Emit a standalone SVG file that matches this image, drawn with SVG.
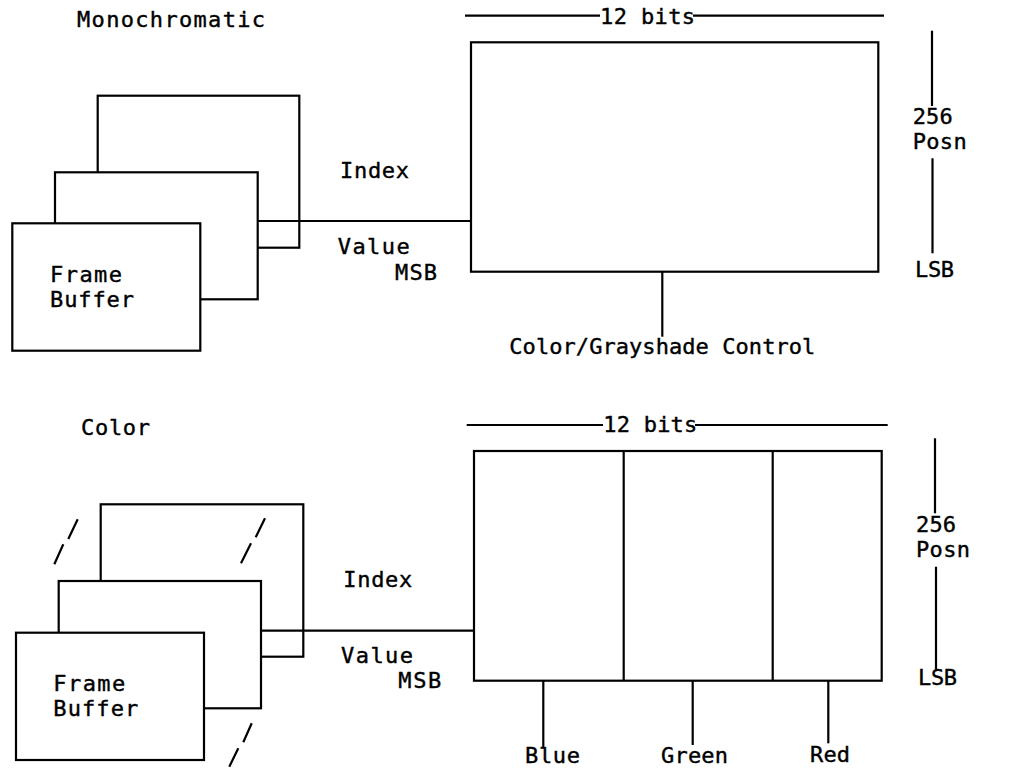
<svg xmlns="http://www.w3.org/2000/svg" width="1015" height="772" viewBox="0 0 1015 772">
<style>
.b{fill:#fff;stroke:#000;stroke-width:2.2}
.l{fill:none;stroke:#000;stroke-width:2.2}
text{font-family:"DejaVu Sans Mono","Liberation Mono",monospace;font-size:22px;fill:#000;stroke:#000;stroke-width:0.4}
</style>
<rect width="1015" height="772" fill="#fff"/>
<g id="mono">
<text x="77" y="26.5" textLength="188" lengthAdjust="spacing">Monochromatic</text>
<g id="mono-fb3"><rect class="b" x="97.7" y="95.7" width="201.6" height="152"/></g>
<g id="mono-fb2"><rect class="b" x="55" y="172.3" width="202.7" height="127"/></g>
<g id="mono-fb1"><rect class="b" x="12.3" y="223.3" width="188" height="127.4"/>
<text x="50" y="281.7" textLength="72" lengthAdjust="spacing">Frame</text>
<text x="50" y="306.7" textLength="84" lengthAdjust="spacing">Buffer</text></g>
<g id="mono-lut"><rect class="b" x="471" y="42.3" width="407.3" height="229.4"/></g>
<g id="mono-labels">
<text x="600" y="23.5" textLength="95" lengthAdjust="spacing">12 bits</text>
<text x="340" y="178.3" textLength="69" lengthAdjust="spacing">Index</text>
<text x="337.7" y="254.3" textLength="72" lengthAdjust="spacing">Value</text>
<text x="395" y="280" textLength="42" lengthAdjust="spacing">MSB</text>
<text x="509.3" y="354.3" textLength="306" lengthAdjust="spacing">Color/Grayshade Control</text>
<text x="912.7" y="124.3" textLength="40" lengthAdjust="spacing">256</text>
<text x="912.7" y="149" textLength="54" lengthAdjust="spacing">Posn</text>
<text x="915" y="276.7" textLength="39" lengthAdjust="spacing">LSB</text>
</g>
</g>
<g id="color">
<text x="81" y="435" textLength="69" lengthAdjust="spacing">Color</text>
<g id="color-fb3"><rect class="b" x="100.7" y="504.3" width="202.6" height="152.4"/></g>
<g id="color-fb2"><rect class="b" x="58.7" y="581" width="202.3" height="127.3"/></g>
<g id="color-fb1"><rect class="b" x="16" y="632.7" width="188" height="127.3"/>
<text x="53.3" y="691" textLength="72" lengthAdjust="spacing">Frame</text>
<text x="53.3" y="716" textLength="85" lengthAdjust="spacing">Buffer</text></g>
<g id="color-lut"><rect class="b" x="474" y="451" width="407.7" height="229.7"/>
<line class="l" x1="623.7" y1="451" x2="623.7" y2="680.7"/>
<line class="l" x1="772.7" y1="451" x2="772.7" y2="680.7"/></g>
<g id="color-slashes">
<path class="l" d="M77.7 519.3L68.3 539M63.3 544.3L54.3 564.3"/>
<path class="l" d="M265 518.3L255.7 537.3M251 543.3L241 563.3"/>
<path class="l" d="M251.7 723.3L243.3 742.3M238.3 748.3L229.3 766.7"/>
</g>
<g id="color-labels">
<text x="603.3" y="432.3" textLength="94" lengthAdjust="spacing">12 bits</text>
<text x="343.3" y="586.7" textLength="69" lengthAdjust="spacing">Index</text>
<text x="341" y="663.3" textLength="72" lengthAdjust="spacing">Value</text>
<text x="398.3" y="688.3" textLength="43" lengthAdjust="spacing">MSB</text>
<text x="916" y="532.3" textLength="40" lengthAdjust="spacing">256</text>
<text x="916" y="557.3" textLength="54" lengthAdjust="spacing">Posn</text>
<text x="918" y="685" textLength="39" lengthAdjust="spacing">LSB</text>
<text x="525" y="763.3" textLength="55" lengthAdjust="spacing">Blue</text>
<text x="661" y="763" textLength="67" lengthAdjust="spacing">Green</text>
<text x="810" y="761.7" textLength="40" lengthAdjust="spacing">Red</text>
</g>
</g>
<g id="connectors">
<line class="l" x1="257.7" y1="221" x2="471" y2="221"/>
<line class="l" x1="662.3" y1="271.7" x2="662.3" y2="336.7"/>
<line class="l" x1="465" y1="15.7" x2="600" y2="15.7"/>
<line class="l" x1="693" y1="15.7" x2="884" y2="15.7"/>
<line class="l" x1="932" y1="30.7" x2="932" y2="106"/>
<line class="l" x1="932.5" y1="158.3" x2="932.5" y2="253.3"/>
<line class="l" x1="261" y1="630.7" x2="474" y2="630.7"/>
<line class="l" x1="543.3" y1="680.7" x2="543.3" y2="748.3"/>
<line class="l" x1="692.7" y1="680.7" x2="692.7" y2="745"/>
<line class="l" x1="828.3" y1="680.7" x2="828.3" y2="743.3"/>
<line class="l" x1="466.7" y1="425" x2="603" y2="425"/>
<line class="l" x1="695" y1="425" x2="887.7" y2="425"/>
<line class="l" x1="935" y1="438.3" x2="935" y2="513.3"/>
<line class="l" x1="936" y1="566.7" x2="936" y2="669.3"/>
</g>
</svg>
